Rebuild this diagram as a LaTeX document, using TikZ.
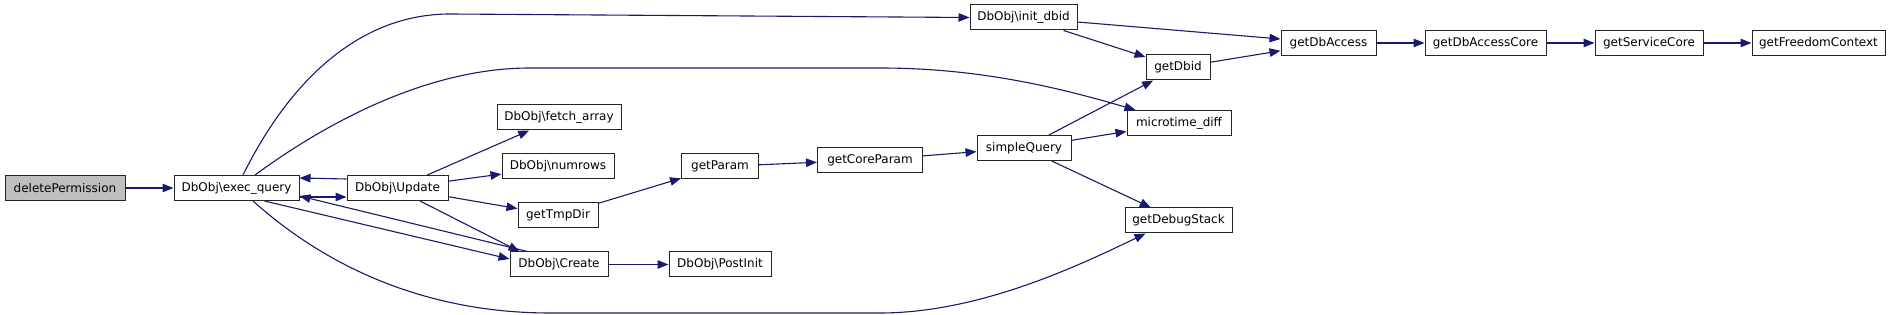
\documentclass[tikz,border=0pt]{standalone}
\usepackage{fontspec}
\setmainfont{DejaVu Sans}
\usepackage{xcolor}
\usepackage{tikz}
\usetikzlibrary{arrows.meta}
\definecolor{edgeblue}{HTML}{191970}
\definecolor{rootgray}{HTML}{BFBFBF}
\tikzset{
  fn/.style={draw=black!85, line width=1pt, fill=white, font=\fontsize{12}{14}\selectfont,
             inner sep=0pt, minimum height=25pt},
  root/.style={fn, fill=rootgray},
  call/.style={-{Triangle[length=11pt,width=8.5pt]}, draw=edgeblue, line width=1.1pt},
}

\begin{document}
\begin{tikzpicture}[x=1pt, y=-1pt]
\useasboundingbox (0,0) rectangle (1891,315);
\node[root, minimum width=120pt] (delperm) at (65,188) {deletePermission};
\node[fn, minimum width=125pt] (execq) at (236.5,188) {DbObj\textbackslash exec\_query};
\node[fn, minimum width=101pt] (update) at (397.5,188) {DbObj\textbackslash Update};
\node[fn, minimum width=124pt] (fetch) at (559,117.5) {DbObj\textbackslash fetch\_array};
\node[fn, minimum width=112pt] (numrows) at (558,166.5) {DbObj\textbackslash numrows};
\node[fn, minimum width=80pt] (tmpdir) at (558,215.5) {getTmpDir};
\node[fn, minimum width=98pt] (create) at (559,264.5) {DbObj\textbackslash Create};
\node[fn, minimum width=102pt] (postinit) at (720,264.5) {DbObj\textbackslash PostInit};
\node[fn, minimum width=77pt] (getparam) at (720,166.5) {getParam};
\node[fn, minimum width=105pt] (coreparam) at (870,160) {getCoreParam};
\node[fn, minimum width=94pt] (simpleq) at (1024,148) {simpleQuery};
\node[fn, minimum width=107pt] (initdbid) at (1023.5,17.5) {DbObj\textbackslash init\_dbid};
\node[fn, minimum width=64pt] (getdbid) at (1178,67.5) {getDbid};
\node[fn, minimum width=104pt] (microtime) at (1179,123) {microtime\_diff};
\node[fn, minimum width=107pt] (debugstack) at (1178.5,220.5) {getDebugStack};
\node[fn, minimum width=95pt] (dbaccess) at (1328.5,43) {getDbAccess};
\node[fn, minimum width=121pt] (dbaccesscore) at (1485.5,43) {getDbAccessCore};
\node[fn, minimum width=108pt] (servicecore) at (1649,43) {getServiceCore};
\node[fn, minimum width=133pt] (freedom) at (1818.5,43) {getFreedomContext};
% calls out of exec_query
\draw[call] (delperm) -- (execq);
\draw[call] ([xshift=6.5]execq.north) .. controls (290,80) and (360,14) .. (450,14) -- (initdbid.west);
\draw[call] ([xshift=18.5]execq.north) .. controls (330,120) and (430,68) .. (530,68) -- (880,68)
  .. controls (980,68) and (1060,88) .. ([xshift=9]microtime.north west);
\draw[call] ([xshift=16.5]execq.south) .. controls (330,270) and (430,313) .. (550,313) -- (880,313)
  .. controls (980,313) and (1080,265) .. ([xshift=21]debugstack.south west);
\draw[call] ([yshift=-9]execq.east) -- ([yshift=-9]update.west);
\draw[call] ([xshift=28]execq.south) -- ([yshift=5.5]create.west);
% calls back into exec_query
\draw[call] ([yshift=9]update.west) -- ([yshift=10]execq.east);
\draw[call] ([xshift=18]create.north west) -- ([yshift=-8]execq.east);
% Update
\draw[call] (update) -- (fetch);
\draw[call] (update) -- (numrows);
\draw[call] (update) -- (tmpdir);
\draw[call] ([xshift=22.5]update.south) -- ([xshift=10]create.north west);
\draw[call] (create) -- (postinit);
% param chain
\draw[call] (tmpdir) -- (getparam);
\draw[call] (getparam) -- (coreparam);
\draw[call] (coreparam) -- (simpleq);
\draw[call] (simpleq) -- (getdbid);
\draw[call] (simpleq) -- (microtime);
\draw[call] (simpleq) -- (debugstack);
% db access chain
\draw[call] (initdbid) -- (dbaccess);
\draw[call] (initdbid) -- (getdbid);
\draw[call] (getdbid) -- (dbaccess);
\draw[call] (dbaccess) -- (dbaccesscore);
\draw[call] (dbaccesscore) -- (servicecore);
\draw[call] (servicecore) -- (freedom);
\end{tikzpicture}
\end{document}
